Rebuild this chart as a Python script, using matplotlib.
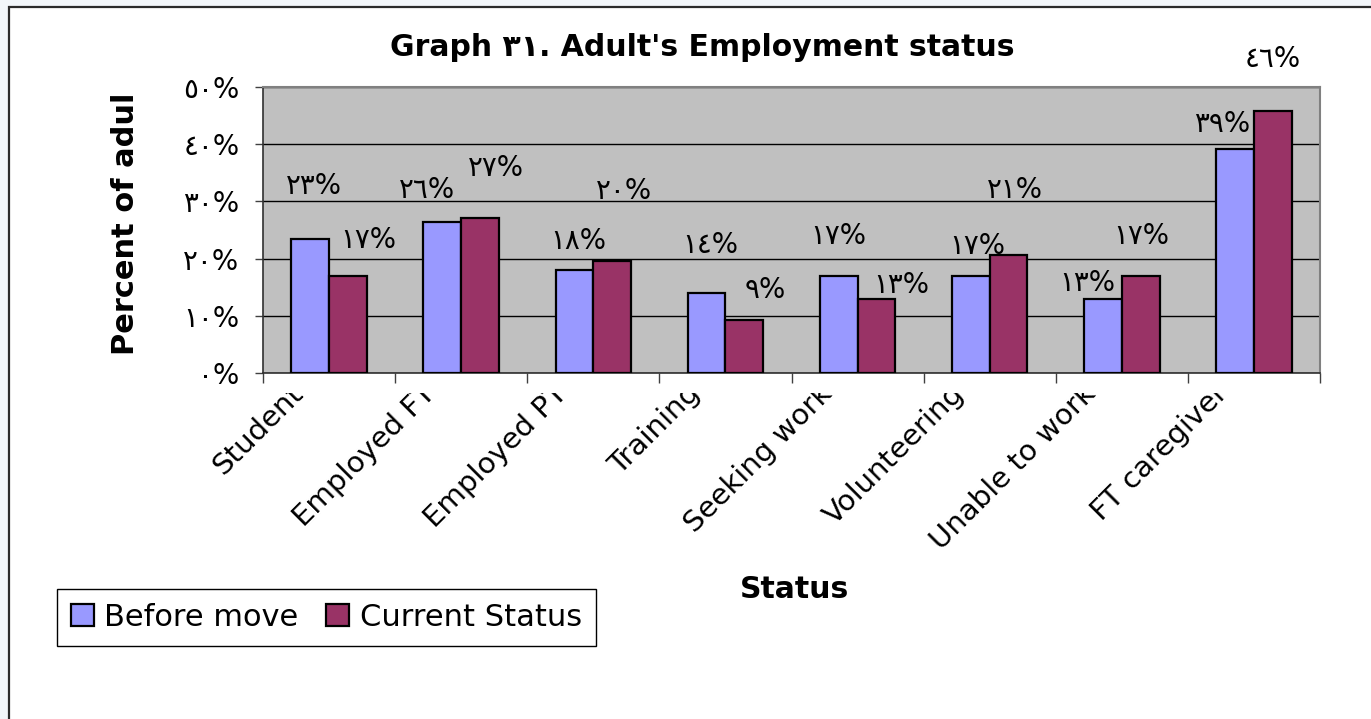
import numpy as np
import matplotlib
matplotlib.use('Agg')
import matplotlib.pyplot as plt
import matplotlib.transforms as mtransforms
from matplotlib.patches import Rectangle

plt.rcParams['font.family'] = ['DejaVu Sans']

# data (percent)
categories = ['Student', 'Employed FT', 'Employed PT', 'Training', 'Seeking work',
              'Volunteering', 'Unable to work', 'FT caregiver']
before_move = [23.4, 26.4, 18.0, 14.0, 16.9, 16.9, 12.9, 39.1]
current_status = [16.9, 27.1, 19.5, 9.3, 12.9, 20.6, 16.9, 45.8]
y_ticks = [0, 10, 20, 30, 40, 50]
series_names = ['Before move', 'Current Status']

# where excel dropped the value labels: (dx, dy) in pixels from the bar top
before_off = [(4, 53), (-15, 32), (4, 29), (4, 48), (0, 40), (6, 30), (-16, 16), (-13, 25)]
current_off = [(20, 36), (16, 50), (12, 70), (21, 30), (25, 14), (6, 65), (1, 40), (0, 52)]

W, H = 1371, 719
DIGITS = str.maketrans('0123456789', '٠١٢٣٤٥٦٧٨٩')


def ar(v):
    """integer percent written with arabic-indic digits"""
    return str(int(v + 0.5)).translate(DIGITS) + '%'


fig = plt.figure(figsize=(W / 100, H / 100), dpi=100)
fig.patch.set_facecolor('#f2f6fa')
# chart area frame (right and bottom edges run off the picture)
fig.add_artist(Rectangle((8.5 / W, -0.2), 1.2, 1.2 - 6.5 / H, transform=fig.transFigure,
                         facecolor='white', edgecolor='#2b2b2b', lw=1.6, zorder=0))

ax = fig.add_axes([263 / W, 1 - 373 / H, (1320 - 263) / W, (373 - 87) / H])
ax.set_facecolor('#c0c0c0')

x = np.arange(len(categories))
w = 1 / 3.5
b1 = ax.bar(x - w / 2, before_move, w, color='#9999ff', edgecolor='black', lw=1.6, zorder=3)
b2 = ax.bar(x + w / 2, current_status, w, color='#993366', edgecolor='black', lw=1.6, zorder=3)

ax.set_xlim(-0.5, len(categories) - 0.5)
ax.set_ylim(0, 50)
ax.set_yticks(y_ticks)
ax.set_yticklabels([ar(v) for v in y_ticks], fontsize=20)
ax.yaxis.grid(True, color='black', lw=1)
ax.set_axisbelow(True)
ax.set_xticks(np.arange(-0.5, len(categories), 1))
ax.set_xticklabels([])
ax.tick_params(axis='x', length=7.5, width=1, color='#404040')
ax.tick_params(axis='y', length=6, width=1, pad=11, color='#404040')
for s in ['top', 'right']:
    ax.spines[s].set_color('#808080')
    ax.spines[s].set_linewidth(1.5)
for s in ['left', 'bottom']:
    ax.spines[s].set_color('#303030')
    ax.spines[s].set_linewidth(1.2)

# value labels
for bars, vals, offs in [(b1, before_move, before_off), (b2, current_status, current_off)]:
    for bar, v, off in zip(bars, vals, offs):
        ax.annotate(ar(v), xy=(bar.get_x() + bar.get_width() / 2, v), xytext=off,
                    textcoords='offset pixels', ha='center', va='center',
                    fontsize=20, annotation_clip=False)

# category labels, cut off along a line just under the axis like the original
lbl_clip = mtransforms.TransformedBbox(mtransforms.Bbox([[0, 0], [1, (H - 393) / H]]),
                                       fig.transFigure)
blend = mtransforms.blended_transform_factory(ax.transData, ax.transAxes)
shift = mtransforms.ScaledTranslation(-30 / 100, -16 / 100, fig.dpi_scale_trans)
for i, c in enumerate(categories):
    t = fig.text(x[i], 0, c, transform=blend + shift, rotation=45, rotation_mode='anchor',
                 ha='right', va='center', fontsize=21)
    t.set_clip_on(True)
    t.set_clip_box(lbl_clip)

ylab_clip = mtransforms.TransformedBbox(mtransforms.Bbox([[0, 0], [1, (H - 94) / H]]),
                                        fig.transFigure)
yl = fig.text(125 / W, 1 - 355 / H, 'Percent of adults', rotation=90, rotation_mode='anchor',
              ha='left', va='center', fontsize=22, weight='bold')
yl.set_clip_on(True)
yl.set_clip_box(ylab_clip)

fig.text(702 / W, 1 - 48 / H, "Graph ٣١. Adult's Employment status", ha='center', va='center',
         fontsize=21.5, weight='bold')
fig.text(795 / W, 1 - 590 / H, 'Status', ha='center', va='center', fontsize=21.5, weight='bold')

leg = fig.legend([b1, b2], series_names, loc='upper left', bbox_to_anchor=(57 / W, 1 - 589 / H),
                 ncol=2, fontsize=22, frameon=True, fancybox=False, edgecolor='black',
                 framealpha=1, handlelength=0.75, handleheight=0.7, handletextpad=0.35,
                 columnspacing=0.9, borderpad=0.45, borderaxespad=0)
leg.get_frame().set_linewidth(1)

fig.savefig('out.png', dpi=100)
